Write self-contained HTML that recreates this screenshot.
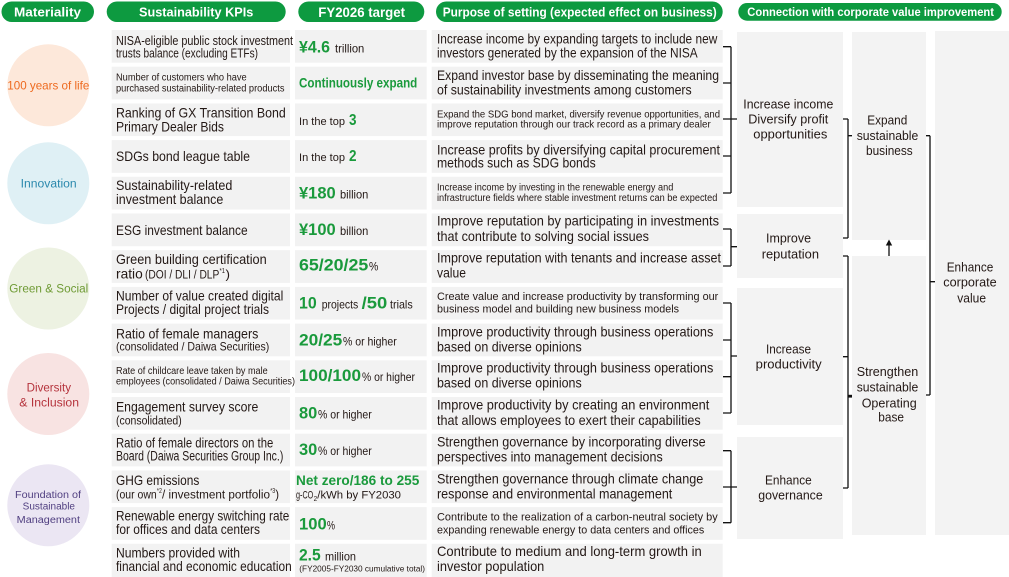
<!DOCTYPE html>
<html>
<head>
<meta charset="utf-8">
<style>
  html,body{margin:0;padding:0;background:#fff;}
  svg{display:block;}
  text{font-family:"Liberation Sans",Arial,sans-serif;fill:#231815;}
  .b{font-weight:bold;}
  .g{fill:#1a9a3c;font-weight:bold;}
  .w{fill:#fff;font-weight:bold;}
  .cell{fill:#f2f2f2;}
  .box{fill:#f3f3f3;}
  .ln{stroke:#111;stroke-width:1.3;fill:none;}
</style>
</head>
<body>
<svg width="1009" height="577" viewBox="0 0 1009 577" xmlns="http://www.w3.org/2000/svg">
<!-- Header pills -->
<rect x="1.5" y="1.5" width="92.5" height="20.5" rx="10.2" fill="#0d9a40"/>
<rect x="106.7" y="1.5" width="179" height="20.5" rx="10.2" fill="#0d9a40"/>
<rect x="298.3" y="1.5" width="126" height="20.5" rx="10.2" fill="#0d9a40"/>
<rect x="436" y="1.5" width="286.7" height="20.5" rx="10.2" fill="#0d9a40"/>
<rect x="738.3" y="3" width="263.4" height="17.7" rx="8.8" fill="#0d9a40"/>
<text class="w" x="14" y="16.5" font-size="13" textLength="67" lengthAdjust="spacingAndGlyphs">Materiality</text>
<text class="w" x="139" y="16.5" font-size="13" textLength="114.3" lengthAdjust="spacingAndGlyphs">Sustainability KPIs</text>
<text class="w" x="318.3" y="17" font-size="13.5" textLength="86.7" lengthAdjust="spacingAndGlyphs">FY2026 target</text>
<text class="w" x="442.7" y="16.5" font-size="12.5" textLength="274" lengthAdjust="spacingAndGlyphs">Purpose of setting (expected effect on business)</text>
<text class="w" x="747.3" y="15.8" font-size="11.5" textLength="246.7" lengthAdjust="spacingAndGlyphs">Connection with corporate value improvement</text>

<!-- Circles -->
<circle cx="48.3" cy="85.3" r="41" fill="#fde8da"/>
<circle cx="48.3" cy="183.3" r="41" fill="#dff0f5"/>
<circle cx="48.3" cy="288.5" r="41" fill="#edf2e2"/>
<circle cx="48.3" cy="394" r="41" fill="#f8e3e2"/>
<circle cx="48.3" cy="505.3" r="41" fill="#ebe6f3"/>
<text x="7.3" y="89.5" font-size="12" style="fill:#ee6a1f" textLength="82" lengthAdjust="spacingAndGlyphs">100 years of life</text>
<text x="20.7" y="187.5" font-size="11.5" style="fill:#2b89ad" textLength="56" lengthAdjust="spacingAndGlyphs">Innovation</text>
<text x="9.3" y="292.5" font-size="11.5" style="fill:#6f9b35" textLength="79" lengthAdjust="spacingAndGlyphs">Green &amp; Social</text>
<text x="26.7" y="391.5" font-size="11.5" style="fill:#b5333c" textLength="44.3" lengthAdjust="spacingAndGlyphs">Diversity</text>
<text x="19.3" y="406.5" font-size="11.5" style="fill:#b5333c" textLength="59.7" lengthAdjust="spacingAndGlyphs">&amp; Inclusion</text>
<text x="15" y="498" font-size="10" style="fill:#503f80" textLength="66" lengthAdjust="spacingAndGlyphs">Foundation of</text>
<text x="22.7" y="509.5" font-size="10" style="fill:#503f80" textLength="52.3" lengthAdjust="spacingAndGlyphs">Sustainable</text>
<text x="16.7" y="523" font-size="10" style="fill:#503f80" textLength="63.3" lengthAdjust="spacingAndGlyphs">Management</text>

<!-- Cell backgrounds -->
<g>
<rect class="cell" x="111.7" y="30" width="178.3" height="32.7"/><rect class="cell" x="295" y="30" width="131.7" height="32.7"/><rect class="cell" x="431.7" y="30" width="291" height="32.7"/>
<rect class="cell" x="111.7" y="66.7" width="178.3" height="32.7"/><rect class="cell" x="295" y="66.7" width="131.7" height="32.7"/><rect class="cell" x="431.7" y="66.7" width="291" height="32.7"/>
<rect class="cell" x="111.7" y="103.4" width="178.3" height="32.7"/><rect class="cell" x="295" y="103.4" width="131.7" height="32.7"/><rect class="cell" x="431.7" y="103.4" width="291" height="32.7"/>
<rect class="cell" x="111.7" y="140.1" width="178.3" height="32.7"/><rect class="cell" x="295" y="140.1" width="131.7" height="32.7"/><rect class="cell" x="431.7" y="140.1" width="291" height="32.7"/>
<rect class="cell" x="111.7" y="176.8" width="178.3" height="32.7"/><rect class="cell" x="295" y="176.8" width="131.7" height="32.7"/><rect class="cell" x="431.7" y="176.8" width="291" height="32.7"/>
<rect class="cell" x="111.7" y="213.5" width="178.3" height="32.7"/><rect class="cell" x="295" y="213.5" width="131.7" height="32.7"/><rect class="cell" x="431.7" y="213.5" width="291" height="32.7"/>
<rect class="cell" x="111.7" y="250.2" width="178.3" height="32.7"/><rect class="cell" x="295" y="250.2" width="131.7" height="32.7"/><rect class="cell" x="431.7" y="250.2" width="291" height="32.7"/>
<rect class="cell" x="111.7" y="286.9" width="178.3" height="32.7"/><rect class="cell" x="295" y="286.9" width="131.7" height="32.7"/><rect class="cell" x="431.7" y="286.9" width="291" height="32.7"/>
<rect class="cell" x="111.7" y="323.6" width="178.3" height="32.7"/><rect class="cell" x="295" y="323.6" width="131.7" height="32.7"/><rect class="cell" x="431.7" y="323.6" width="291" height="32.7"/>
<rect class="cell" x="111.7" y="360.3" width="178.3" height="32.7"/><rect class="cell" x="295" y="360.3" width="131.7" height="32.7"/><rect class="cell" x="431.7" y="360.3" width="291" height="32.7"/>
<rect class="cell" x="111.7" y="397" width="178.3" height="32.7"/><rect class="cell" x="295" y="397" width="131.7" height="32.7"/><rect class="cell" x="431.7" y="397" width="291" height="32.7"/>
<rect class="cell" x="111.7" y="433.7" width="178.3" height="32.7"/><rect class="cell" x="295" y="433.7" width="131.7" height="32.7"/><rect class="cell" x="431.7" y="433.7" width="291" height="32.7"/>
<rect class="cell" x="111.7" y="470.4" width="178.3" height="32.7"/><rect class="cell" x="295" y="470.4" width="131.7" height="32.7"/><rect class="cell" x="431.7" y="470.4" width="291" height="32.7"/>
<rect class="cell" x="111.7" y="507.1" width="178.3" height="32.7"/><rect class="cell" x="295" y="507.1" width="131.7" height="32.7"/><rect class="cell" x="431.7" y="507.1" width="291" height="32.7"/>
<rect class="cell" x="111.7" y="543.8" width="178.3" height="33.2"/><rect class="cell" x="295" y="543.8" width="131.7" height="33.2"/><rect class="cell" x="431.7" y="543.8" width="291" height="33.2"/>
</g>

<!-- KPI column -->
<text x="116" y="45" font-size="12.5" textLength="177" lengthAdjust="spacingAndGlyphs">NISA-eligible public stock investment</text>
<text x="116" y="57.5" font-size="12.5" textLength="142" lengthAdjust="spacingAndGlyphs">trusts balance (excluding ETFs)</text>
<text x="116" y="80.5" font-size="10" textLength="130.7" lengthAdjust="spacingAndGlyphs">Number of customers who have</text>
<text x="116" y="91.5" font-size="10" textLength="168.5" lengthAdjust="spacingAndGlyphs">purchased sustainability-related products</text>
<text x="116" y="117.5" font-size="14" textLength="169.7" lengthAdjust="spacingAndGlyphs">Ranking of GX Transition Bond</text>
<text x="116" y="131.5" font-size="14" textLength="108" lengthAdjust="spacingAndGlyphs">Primary Dealer Bids</text>
<text x="116" y="161" font-size="14" textLength="134" lengthAdjust="spacingAndGlyphs">SDGs bond league table</text>
<text x="116" y="190" font-size="14" textLength="116.3" lengthAdjust="spacingAndGlyphs">Sustainability-related</text>
<text x="116" y="204" font-size="14" textLength="107.3" lengthAdjust="spacingAndGlyphs">investment balance</text>
<text x="116" y="235" font-size="14" textLength="131.7" lengthAdjust="spacingAndGlyphs">ESG investment balance</text>
<text x="116" y="264" font-size="14" textLength="150.7" lengthAdjust="spacingAndGlyphs">Green building certification</text>
<text x="116" y="278.3" font-size="14" textLength="26.7" lengthAdjust="spacingAndGlyphs">ratio</text>
<text x="145" y="278.3" font-size="11.5" textLength="74.3" lengthAdjust="spacingAndGlyphs">(DOI / DLI / DLP</text>
<text x="219.5" y="273" font-size="7" textLength="5.5" lengthAdjust="spacingAndGlyphs">*1</text>
<text x="225.5" y="278.3" font-size="11.5" textLength="4.5" lengthAdjust="spacingAndGlyphs">)</text>
<text x="116" y="300.7" font-size="14" textLength="167.3" lengthAdjust="spacingAndGlyphs">Number of value created digital</text>
<text x="116" y="314" font-size="14" textLength="153" lengthAdjust="spacingAndGlyphs">Projects / digital project trials</text>
<text x="116" y="338.3" font-size="14" textLength="142.3" lengthAdjust="spacingAndGlyphs">Ratio of female managers</text>
<text x="116" y="350.7" font-size="12" textLength="153.3" lengthAdjust="spacingAndGlyphs">(consolidated / Daiwa Securities)</text>
<text x="116" y="374" font-size="10" textLength="151.7" lengthAdjust="spacingAndGlyphs">Rate of childcare leave taken by male</text>
<text x="116" y="384.7" font-size="10" textLength="179" lengthAdjust="spacingAndGlyphs">employees (consolidated / Daiwa Securities)</text>
<text x="116" y="411.7" font-size="14" textLength="142.3" lengthAdjust="spacingAndGlyphs">Engagement survey score</text>
<text x="116" y="424.3" font-size="11.5" textLength="65.7" lengthAdjust="spacingAndGlyphs">(consolidated)</text>
<text x="116" y="447.3" font-size="13.5" textLength="157.3" lengthAdjust="spacingAndGlyphs">Ratio of female directors on the</text>
<text x="116" y="460.7" font-size="13.5" textLength="167.3" lengthAdjust="spacingAndGlyphs">Board (Daiwa Securities Group Inc.)</text>
<text x="116" y="485" font-size="14" textLength="83.3" lengthAdjust="spacingAndGlyphs">GHG emissions</text>
<text x="116" y="498.3" font-size="11.5" textLength="40.7" lengthAdjust="spacingAndGlyphs">(our own</text>
<text x="156.9" y="493" font-size="7" textLength="5" lengthAdjust="spacingAndGlyphs">*2</text>
<text x="162" y="498.3" font-size="11.5" textLength="108" lengthAdjust="spacingAndGlyphs">/ investment portfolio</text>
<text x="270.2" y="493" font-size="7" textLength="5" lengthAdjust="spacingAndGlyphs">*3</text>
<text x="275.3" y="498.3" font-size="11.5" textLength="3.8" lengthAdjust="spacingAndGlyphs">)</text>
<text x="116" y="520.7" font-size="14" textLength="173.3" lengthAdjust="spacingAndGlyphs">Renewable energy switching rate</text>
<text x="116" y="534" font-size="14" textLength="144" lengthAdjust="spacingAndGlyphs">for offices and data centers</text>
<text x="116" y="557.3" font-size="14" textLength="124" lengthAdjust="spacingAndGlyphs">Numbers provided with</text>
<text x="116" y="571" font-size="14" textLength="175.7" lengthAdjust="spacingAndGlyphs">financial and economic education</text>

<!-- Target column -->
<text class="g" x="299" y="52.3" font-size="17" textLength="31" lengthAdjust="spacingAndGlyphs">¥4.6</text>
<text x="335" y="52.3" font-size="12" textLength="29.3" lengthAdjust="spacingAndGlyphs">trillion</text>
<text class="g" x="299" y="87.7" font-size="13.5" textLength="118.3" lengthAdjust="spacingAndGlyphs">Continuously expand</text>
<text x="299" y="125" font-size="11" textLength="46" lengthAdjust="spacingAndGlyphs">In the top</text>
<text class="g" x="349" y="125" font-size="16" textLength="7.5" lengthAdjust="spacingAndGlyphs">3</text>
<text x="299" y="161" font-size="11" textLength="46" lengthAdjust="spacingAndGlyphs">In the top</text>
<text class="g" x="349" y="161" font-size="16" textLength="7.5" lengthAdjust="spacingAndGlyphs">2</text>
<text class="g" x="299" y="198.3" font-size="17" textLength="36.7" lengthAdjust="spacingAndGlyphs">¥180</text>
<text x="340" y="198.3" font-size="12" textLength="28.3" lengthAdjust="spacingAndGlyphs">billion</text>
<text class="g" x="299" y="235" font-size="17" textLength="36.7" lengthAdjust="spacingAndGlyphs">¥100</text>
<text x="340" y="235" font-size="12" textLength="28.3" lengthAdjust="spacingAndGlyphs">billion</text>
<text class="g" x="299" y="270.7" font-size="17" textLength="69.3" lengthAdjust="spacingAndGlyphs">65/20/25</text>
<text x="369" y="270.7" font-size="12" textLength="9.3" lengthAdjust="spacingAndGlyphs">%</text>
<text class="g" x="299" y="308.3" font-size="17" textLength="17.7" lengthAdjust="spacingAndGlyphs">10</text>
<text x="321.7" y="308.3" font-size="12" textLength="36.6" lengthAdjust="spacingAndGlyphs">projects</text>
<text class="g" x="361.7" y="308.3" font-size="17" textLength="25.6" lengthAdjust="spacingAndGlyphs">/50</text>
<text x="390" y="308.3" font-size="12" textLength="22.7" lengthAdjust="spacingAndGlyphs">trials</text>
<text class="g" x="299" y="345.7" font-size="17" textLength="43.3" lengthAdjust="spacingAndGlyphs">20/25</text>
<text x="343" y="345.7" font-size="12" textLength="53.7" lengthAdjust="spacingAndGlyphs">% or higher</text>
<text class="g" x="299" y="381" font-size="17" textLength="62" lengthAdjust="spacingAndGlyphs">100/100</text>
<text x="362" y="381" font-size="12" textLength="53" lengthAdjust="spacingAndGlyphs">% or higher</text>
<text class="g" x="299" y="418.3" font-size="17" textLength="18.3" lengthAdjust="spacingAndGlyphs">80</text>
<text x="318" y="418.3" font-size="12" textLength="53.7" lengthAdjust="spacingAndGlyphs">% or higher</text>
<text class="g" x="299" y="455" font-size="17" textLength="18.3" lengthAdjust="spacingAndGlyphs">30</text>
<text x="318" y="455" font-size="12" textLength="53.7" lengthAdjust="spacingAndGlyphs">% or higher</text>
<text class="g" x="296" y="485" font-size="14" textLength="123.3" lengthAdjust="spacingAndGlyphs">Net zero/186 to 255</text>
<text x="296" y="498.3" font-size="11" textLength="17.3" lengthAdjust="spacingAndGlyphs">g-CO</text>
<text x="313.6" y="500.8" font-size="7" textLength="3.6" lengthAdjust="spacingAndGlyphs">2</text>
<text x="317.3" y="498.3" font-size="11" textLength="83.7" lengthAdjust="spacingAndGlyphs">/kWh by FY2030</text>
<text class="g" x="299" y="529.3" font-size="17" textLength="27.7" lengthAdjust="spacingAndGlyphs">100</text>
<text x="327" y="529.3" font-size="12" textLength="8" lengthAdjust="spacingAndGlyphs">%</text>
<text class="g" x="299" y="560.7" font-size="17" textLength="21.7" lengthAdjust="spacingAndGlyphs">2.5</text>
<text x="325" y="560.7" font-size="12" textLength="31" lengthAdjust="spacingAndGlyphs">million</text>
<text x="299.3" y="571.7" font-size="8.5" textLength="125.7" lengthAdjust="spacingAndGlyphs">(FY2005-FY2030 cumulative total)</text>

<!-- Purpose column -->
<text x="437" y="43.3" font-size="13.5" textLength="280.3" lengthAdjust="spacingAndGlyphs">Increase income by expanding targets to include new</text>
<text x="437" y="57.3" font-size="13.5" textLength="260.7" lengthAdjust="spacingAndGlyphs">investors generated by the expansion of the NISA</text>
<text x="437" y="80" font-size="14" textLength="282" lengthAdjust="spacingAndGlyphs">Expand investor base by disseminating the meaning</text>
<text x="437" y="94.3" font-size="14" textLength="254.7" lengthAdjust="spacingAndGlyphs">of sustainability investments among customers</text>
<text x="437" y="117.3" font-size="10.5" textLength="283" lengthAdjust="spacingAndGlyphs">Expand the SDG bond market, diversify revenue opportunities, and</text>
<text x="437" y="127.7" font-size="10.5" textLength="273.7" lengthAdjust="spacingAndGlyphs">improve reputation through our track record as a primary dealer</text>
<text x="437" y="154.3" font-size="14" textLength="283" lengthAdjust="spacingAndGlyphs">Increase profits by diversifying capital procurement</text>
<text x="437" y="167.7" font-size="14" textLength="158.7" lengthAdjust="spacingAndGlyphs">methods such as SDG bonds</text>
<text x="437" y="190.7" font-size="10" textLength="236.3" lengthAdjust="spacingAndGlyphs">Increase income by investing in the renewable energy and</text>
<text x="437" y="201" font-size="10" textLength="280.3" lengthAdjust="spacingAndGlyphs">infrastructure fields where stable investment returns can be expected</text>
<text x="437" y="225.7" font-size="14" textLength="282" lengthAdjust="spacingAndGlyphs">Improve reputation by participating in investments</text>
<text x="437" y="241" font-size="14" textLength="212" lengthAdjust="spacingAndGlyphs">that contribute to solving social issues</text>
<text x="437" y="262.7" font-size="14" textLength="284" lengthAdjust="spacingAndGlyphs">Improve reputation with tenants and increase asset</text>
<text x="437" y="277.7" font-size="14" textLength="29" lengthAdjust="spacingAndGlyphs">value</text>
<text x="437" y="300" font-size="11" textLength="281.3" lengthAdjust="spacingAndGlyphs">Create value and increase productivity by transforming our</text>
<text x="437" y="312.7" font-size="11" textLength="242" lengthAdjust="spacingAndGlyphs">business model and building new business models</text>
<text x="437" y="336.7" font-size="14" textLength="276.3" lengthAdjust="spacingAndGlyphs">Improve productivity through business operations</text>
<text x="437" y="351.7" font-size="14" textLength="144.7" lengthAdjust="spacingAndGlyphs">based on diverse opinions</text>
<text x="437" y="372.7" font-size="14" textLength="276.3" lengthAdjust="spacingAndGlyphs">Improve productivity through business operations</text>
<text x="437" y="387.7" font-size="14" textLength="144.7" lengthAdjust="spacingAndGlyphs">based on diverse opinions</text>
<text x="437" y="409.3" font-size="14" textLength="272.3" lengthAdjust="spacingAndGlyphs">Improve productivity by creating an environment</text>
<text x="437" y="425" font-size="14" textLength="263.7" lengthAdjust="spacingAndGlyphs">that allows employees to exert their capabilities</text>
<text x="437" y="446.7" font-size="14" textLength="268.7" lengthAdjust="spacingAndGlyphs">Strengthen governance by incorporating diverse</text>
<text x="437" y="461.7" font-size="14" textLength="225.7" lengthAdjust="spacingAndGlyphs">perspectives into management decisions</text>
<text x="437" y="483.3" font-size="14" textLength="266.3" lengthAdjust="spacingAndGlyphs">Strengthen governance through climate change</text>
<text x="437" y="498.3" font-size="14" textLength="235.3" lengthAdjust="spacingAndGlyphs">response and environmental management</text>
<text x="437" y="520.7" font-size="11" textLength="280.7" lengthAdjust="spacingAndGlyphs">Contribute to the realization of a carbon-neutral society by</text>
<text x="437" y="533.3" font-size="11" textLength="267.3" lengthAdjust="spacingAndGlyphs">expanding renewable energy to data centers and offices</text>
<text x="437" y="556" font-size="14" textLength="264.7" lengthAdjust="spacingAndGlyphs">Contribute to medium and long-term growth in</text>
<text x="437" y="571" font-size="14" textLength="107.3" lengthAdjust="spacingAndGlyphs">investor population</text>

<!-- Right boxes -->
<rect class="box" x="737" y="32" width="106" height="175"/>
<rect class="box" x="737" y="214" width="106" height="64"/>
<rect class="box" x="737" y="288" width="106" height="137"/>
<rect class="box" x="737" y="437" width="106" height="102"/>
<rect class="box" x="852" y="32" width="74" height="208"/>
<rect class="box" x="852" y="256" width="74" height="279"/>
<rect class="box" x="935" y="31" width="74" height="504"/>

<text x="743.3" y="108.3" font-size="13" textLength="90" lengthAdjust="spacingAndGlyphs">Increase income</text>
<text x="748.3" y="123.3" font-size="13" textLength="80" lengthAdjust="spacingAndGlyphs">Diversify profit</text>
<text x="753.3" y="138.3" font-size="13" textLength="74" lengthAdjust="spacingAndGlyphs">opportunities</text>
<text x="766" y="242.7" font-size="13" textLength="45" lengthAdjust="spacingAndGlyphs">Improve</text>
<text x="761.7" y="258.3" font-size="13" textLength="57.3" lengthAdjust="spacingAndGlyphs">reputation</text>
<text x="766" y="353.3" font-size="13" textLength="45" lengthAdjust="spacingAndGlyphs">Increase</text>
<text x="755.7" y="368.3" font-size="13" textLength="66" lengthAdjust="spacingAndGlyphs">productivity</text>
<text x="765" y="484.3" font-size="13" textLength="46.7" lengthAdjust="spacingAndGlyphs">Enhance</text>
<text x="758.3" y="499.3" font-size="13" textLength="64.4" lengthAdjust="spacingAndGlyphs">governance</text>
<text x="867.3" y="124.3" font-size="13" textLength="40" lengthAdjust="spacingAndGlyphs">Expand</text>
<text x="856.7" y="140" font-size="13" textLength="61.6" lengthAdjust="spacingAndGlyphs">sustainable</text>
<text x="866" y="155" font-size="13" textLength="46.7" lengthAdjust="spacingAndGlyphs">business</text>
<text x="856.7" y="376" font-size="13" textLength="61.6" lengthAdjust="spacingAndGlyphs">Strengthen</text>
<text x="856.7" y="391.7" font-size="13" textLength="61.6" lengthAdjust="spacingAndGlyphs">sustainable</text>
<text x="861.7" y="407.3" font-size="13" textLength="55" lengthAdjust="spacingAndGlyphs">Operating</text>
<text x="878.3" y="421.7" font-size="13" textLength="25.7" lengthAdjust="spacingAndGlyphs">base</text>
<text x="946.7" y="271.7" font-size="13" textLength="46.6" lengthAdjust="spacingAndGlyphs">Enhance</text>
<text x="943.3" y="286.7" font-size="13" textLength="53.4" lengthAdjust="spacingAndGlyphs">corporate</text>
<text x="957.3" y="302.3" font-size="13" textLength="28.7" lengthAdjust="spacingAndGlyphs">value</text>

<!-- Brackets / connectors -->
<path class="ln" d="M723 46.7H731M723 83H731M723 119H731M723 156H731M723 193H731M731 46.7V193M731 119H737"/>
<path class="ln" d="M723 229H731M723 266H731M731 229V266M731 246.7H737"/>
<path class="ln" d="M723 303H731M723 340H731M723 376.7H731M723 413H731M731 303V413M731 356H737"/>
<path class="ln" d="M723 450.7H731M723 487H731M723 522.7H731M731 450.7V522.7M731 487H737"/>
<path class="ln" d="M843 119H848M848 119V238M843 238H848M848 135.7H852"/>
<path class="ln" d="M843 256H848M848 256V488M843 356.7H848M843 488H848"/>
<path d="M847.5 394.8H852V397.6H847.5Z" fill="#111"/>
<path class="ln" d="M926 135.7H930M930 135.7V395M926 395H930M930 281.7H935"/>
<path class="ln" d="M889 256V243"/>
<path d="M889 239.5L885.8 245.5H892.2Z" fill="#111"/>
</svg>
</body>
</html>
